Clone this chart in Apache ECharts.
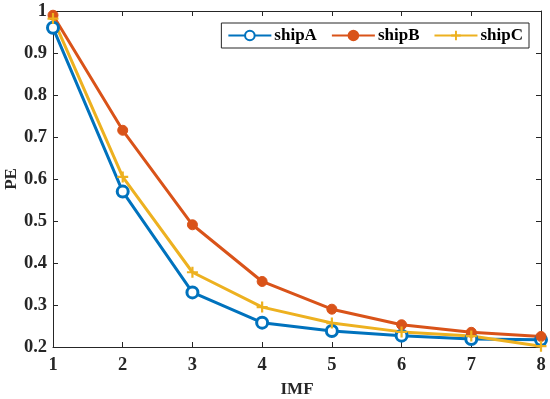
<!DOCTYPE html>
<html><head><meta charset="utf-8">
<script src="https://cdn.jsdelivr.net/npm/echarts@6/dist/echarts.min.js"></script>
<style>html,body{margin:0;padding:0;background:#fff}#c{width:550px;height:399px}</style>
</head><body><div id="c"></div>
<script>
const imf = [1, 2, 3, 4, 5, 6, 7, 8];
const shipA = [0.960, 0.570, 0.330, 0.258, 0.238, 0.227, 0.219, 0.217];
const shipB = [0.990, 0.716, 0.491, 0.356, 0.290, 0.253, 0.235, 0.225];
const shipC = [0.982, 0.605, 0.378, 0.295, 0.257, 0.236, 0.226, 0.202];
const seriesNames = ['shipA', 'shipB', 'shipC'];
const colors = ['#0072BD', '#D95319', '#EDB120'];

const font = 'Liberation Serif';
const chart = echarts.init(document.getElementById('c'), null, {renderer: 'canvas'});
const pair = arr => imf.map((x, i) => [x, arr[i]]);
const plus = 'path://M4,0h2v4h4v2h-4v4h-2v-4h-4v-2h4z';
const axisCommon = {
  axisLine: {show: true, onZero: false, lineStyle: {color: '#262626', width: 1}},
  axisTick: {show: true, inside: true, length: 5, lineStyle: {color: '#262626'}},
  splitLine: {show: false}
};
const labelFont = {fontFamily: font, fontWeight: 'bold', fontSize: 18.5, color: '#262626'};
chart.setOption({
  animation: false,
  grid: {left: 53, right: 9, top: 11, bottom: 52, containLabel: false, outerBoundsMode: 'none'},
  legend: {
    top: 23, right: 21,
    data: seriesNames,
    itemWidth: 43, itemHeight: 12, itemGap: 14,
    borderColor: '#262626', borderWidth: 1, padding: [4, 6, 4, 6],
    textStyle: {fontFamily: font, fontWeight: 'bold', fontSize: 17, color: '#000', padding: [0,0,0,-2]}
  },
  xAxis: [
    Object.assign({type: 'value', min: 1, max: 8, interval: 1, name: 'IMF', nameLocation: 'middle', nameGap: 34,
      nameMoveOverlap: false,
      nameTextStyle: Object.assign({}, labelFont, {fontSize: 17}),
      axisLabel: Object.assign({margin: 9}, labelFont)}, axisCommon),
    Object.assign({type: 'value', min: 1, max: 8, interval: 1, position: 'top', axisLabel: {show: false}}, axisCommon)
  ],
  yAxis: [
    Object.assign({type: 'value', min: 0.2, max: 1, interval: 0.1, name: 'PE', nameLocation: 'middle', nameGap: 33,
      nameMoveOverlap: false,
      nameTextStyle: Object.assign({}, labelFont, {fontSize: 17}),
      axisLabel: Object.assign({margin: 6, formatter: v => String(Math.round(v * 10) / 10)}, labelFont)}, axisCommon),
    Object.assign({type: 'value', min: 0.2, max: 1, interval: 0.1, position: 'right', axisLabel: {show: false}}, axisCommon)
  ],
  series: [
    {name: 'shipA', type: 'line', data: pair(shipA),
     symbol: 'circle', symbolSize: 11, lineStyle: {width: 3, color: colors[0]},
     itemStyle: {color: '#fff', borderColor: colors[0], borderWidth: 3}},
    {name: 'shipB', type: 'line', data: pair(shipB),
     symbol: 'circle', symbolSize: 10, lineStyle: {width: 3, color: colors[1]},
     itemStyle: {color: colors[1], borderColor: colors[1], borderWidth: 1}},
    {name: 'shipC', type: 'line', data: pair(shipC),
     symbol: plus, symbolSize: 11, lineStyle: {width: 3, color: colors[2]},
     itemStyle: {color: colors[2]}}
  ]
});
</script></body></html>
